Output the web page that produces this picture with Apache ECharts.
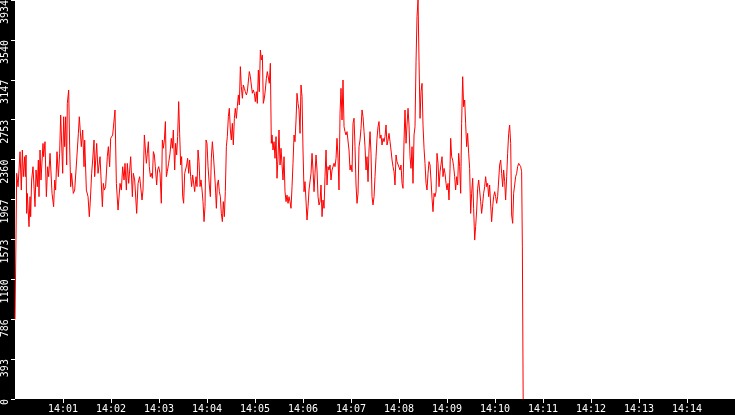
<!DOCTYPE html>
<html>
<head>
<meta charset="utf-8">
<script src="https://cdn.jsdelivr.net/npm/echarts@6/dist/echarts.min.js"></script>
<style>
  html, body { margin: 0; padding: 0; background: #000; }
  #main { width: 735px; height: 415px; }
</style>
</head>
<body>
<div id="main"></div>
<script>
// seconds after 14:00:00
const xSeconds = [
  0, 1.2, 2.1, 3.8, 6.3, 7.9, 9.2, 10.4, 12.1, 12.9, 13.8, 14.6, 15.4, 17.5, 18.8, 19.6, 20.8, 22.5, 25, 26.3,
  27.9, 29.2, 30, 31.3, 32.5, 35, 35.8, 37.5, 39.2, 40.8, 42.1, 43.8, 46.3, 48.3, 49.6, 50.8, 52.5, 54.2, 55.8, 57.1,
  59.6, 60.8, 62.1, 63.3, 64.6, 65.4, 67.1, 68.3, 69.6, 70.8, 72.9, 74.6, 77.1, 79.2, 80.4, 81.7, 82.9, 84.6, 86.3, 87.1,
  89.2, 91.3, 92.9, 94.2, 95.8, 97.1, 98.8, 99.6, 102.1, 103.8, 106.3, 109.2, 110.4, 111.7, 113.3, 115.4, 116.7, 118.3, 119.6, 122.1,
  123.8, 125, 126.7, 128.8, 131.3, 132.9, 134.6, 136.3, 137.5, 139.2, 140.4, 142.1, 144.6, 146.7, 147.9, 149.6, 152.1, 153.8, 155.8, 158.8,
  160, 161.7, 163, 164.2, 165.4, 166.7, 167.9, 169.2, 170.4, 171.7, 173, 174.2, 175.4, 177.1, 178.3, 179.6, 181.3, 182.9, 184.2, 185.4,
  186.7, 188, 189.2, 190.4, 192, 193.8, 195.4, 196.7, 197.9, 199.6, 200.8, 202.1, 203.3, 204.6, 205.8, 207.1, 208.3, 209.6, 210.8, 212.1,
  213.3, 214.6, 215.8, 217.1, 218.3, 219.6, 220.8, 222.1, 223.3, 224.6, 226.3, 227.5, 228.8, 230, 231.3, 232.5, 233.8, 235, 236.3, 237.5,
  238.8, 240, 241.3, 242.9, 244.2, 245.4, 246.7, 248, 249.2, 250.4, 251.7, 252.9, 254.2, 255.4, 256.7, 257.9, 259.2, 260.4, 261.7, 262.9,
  264.2, 265.4, 266.7, 267.9, 269.2, 270.4, 271.7, 272.9, 274.2, 275.4, 276.7, 277.9, 279.2, 280.4, 281.7, 282.9, 284.2, 285.4, 286.7, 287.9,
  289.2, 290.4, 291.7, 292.9, 294.2, 295.4, 296.7, 297.9, 299.2, 300.4, 301.7, 302.9, 304.2, 305.4, 306.7, 307.9, 309.2, 310.4, 311.7, 312.9,
  314.2, 315.4, 316.7, 317.9, 319.2, 320.4, 321.3, 322.5, 323.8, 325, 326.3, 327.5, 328.8, 330, 331.3, 332.5, 333.8, 335, 336.3, 337.5,
  338.8, 340, 341.3, 342.5, 343.8, 345, 346.3, 347.5, 348.8, 350, 351.3, 352.5, 353.8, 355, 356.3, 357.5, 358.8, 360, 361.3, 362.5,
  363.8, 365, 366.3, 367.5, 368.8, 370, 371.3, 372.5, 373.8, 375, 376.3, 377.5, 378.8, 380, 381.3, 382.5, 383.8, 385, 386.3, 387.5,
  388.8, 390, 391.3, 392.5, 393.8, 395, 396.3, 397.5, 398.8, 400, 401.3, 402.5, 403.8, 405, 406.3, 407.5, 408.8, 410, 411.3, 412.5,
  413.8, 415, 416.3, 417.5, 418.8, 420, 421.3, 422.5, 423.8, 425, 426.3, 427.5, 428.8, 430, 431.3, 432.5, 433.8, 435, 436.3, 437.5,
  438.8, 440, 441.3, 442.5, 443.8, 445, 446.3, 447.5, 448.8, 450, 451.3, 452.5, 453.8, 455, 456.3, 457.5, 458.8, 460, 461.3, 462.5,
  463.8, 465, 466.3, 467.5, 468.8, 470, 471.3, 472.5, 473.8, 475, 476.3, 477.5, 478.8, 480, 481.3, 482.5, 483.8, 485, 486.3, 487.5,
  488.8, 490, 491.3, 492.5, 493.8, 495, 496.3, 497.5, 498.8, 500, 501.3, 502.5, 503.8, 505, 506.3, 507.5, 508.8, 510, 511.3, 512.5,
  513.8, 515, 516.3, 517.5, 518.8, 520, 521.3, 522.5, 523.8, 525, 526.3, 527.5, 528.8, 530, 531.3, 532.5, 533.8, 535, 536.3, 537.5,
  538.8, 540, 541.3, 542.5, 543.8, 544.6, 545.8, 547.1, 548.3, 549.6, 550.8, 552.1, 553.3, 554.6, 555.8, 557.1, 558.3, 559.6, 560.8, 562.1,
  563.3, 564.6, 565.8, 567.1, 568.3, 569.6, 570.8, 572.1, 573.3, 574.6, 575.8, 577.1, 578.3, 579.6, 580.8, 582.1, 583.3, 584.6, 585.8, 587.1,
  588.3, 589.6, 590.8, 592.1, 593.3, 594.6, 595.8, 597.1, 598.3, 599.6, 600.8, 602.1, 603.3, 604.6, 605.8, 607.1, 608.3, 609.6, 610.8, 612.1,
  613.3, 614.6, 615.8, 617.1, 618.3, 619.6, 620.8, 622.1, 623.3, 624.6, 625.8, 627.1, 628.3, 629.6, 630.8, 632.1, 633.3, 634.2, 635.2
];
const yValues = [
  786, 1570, 2225, 2093, 2438, 2060, 2455, 2192, 2389, 2192, 2405, 1830, 2027, 1699, 1995, 1797, 2159, 2290, 1896, 2258,
  2093, 2356, 1995, 2455, 2159, 2520, 2389, 2537, 1995, 2290, 2192, 2422, 2027, 1896, 2159, 2060, 2438, 2192, 2422, 2800,
  2225, 2783, 2488, 2783, 2307, 2915, 3046, 2504, 2093, 2225, 2027, 2060, 2356, 2619, 2783, 2800, 2488, 2652, 2290, 2553,
  2060, 1995, 1797, 1962, 2225, 2356, 2553, 2192, 2520, 2225, 2389, 1896, 2126, 2060, 2093, 2389, 2488, 2290, 2570, 2603,
  2619, 2849, 2126, 1863, 2126, 2060, 2290, 2159, 2323, 2060, 2323, 2126, 2389, 1995, 2225, 2159, 1830, 2126, 2192, 1962,
  2061, 2603, 2620, 2324, 2422, 2537, 2291, 2192, 2225, 2176, 2439, 2406, 2291, 2110, 2258, 2291, 2225, 1930, 2554, 2472,
  2554, 2735, 2192, 2242, 2324, 2422, 2570, 2472, 2652, 2258, 2521, 2406, 2587, 2932, 2620, 2307, 2390, 1995, 1930, 2225,
  2242, 2307, 2373, 2225, 2357, 2192, 2094, 2209, 2192, 2045, 2192, 2094, 2455, 2340, 2094, 2160, 2061, 1946, 1749, 1897,
  2554, 2521, 2291, 2110, 1995, 2373, 2537, 2406, 2390, 2110, 1880, 2110, 2160, 2045, 1995, 1831, 1749, 1946, 1798, 2045,
  2488, 2587, 2784, 2866, 2652, 2554, 2718, 2505, 2767, 2866, 2767, 2883, 2998, 2899, 3277, 3080, 2965, 3096, 3063, 3030,
  2998, 3030, 3014, 3228, 3178, 3096, 3014, 3047, 3014, 2932, 3030, 2915, 3244, 3030, 3441, 3343, 3392, 2915, 2965, 3047,
  3162, 3228, 3244, 3113, 3310, 2521, 2603, 2455, 2537, 2373, 2587, 2176, 2389, 2652, 2307, 2472, 2455, 2159, 2389, 2044,
  1946, 2011, 1929, 1995, 1946, 1880, 2094, 2324, 2603, 2537, 2751, 3014, 2915, 2850, 2619, 3096, 2981, 2455, 2044, 2143,
  2126, 1765, 1896, 2061, 2044, 2225, 2422, 2258, 2044, 2225, 2406, 2258, 1995, 1913, 1946, 2110, 1798, 1962, 1880, 2192,
  2455, 2110, 2291, 2258, 2307, 2159, 2258, 2258, 2324, 2291, 2373, 2570, 2373, 2061, 2817, 3063, 2751, 3145, 2685, 2636,
  2603, 2636, 2619, 2455, 2258, 2307, 2241, 2718, 2768, 2488, 2110, 1929, 2028, 2488, 2554, 2669, 2850, 2784, 2636, 2488,
  2258, 2389, 2143, 2455, 2636, 2422, 1995, 1913, 1995, 2192, 2389, 2570, 2685, 2735, 2570, 2603, 2504, 2570, 2537, 2587,
  2702, 2504, 2554, 2619, 2537, 2455, 2357, 2291, 2241, 2110, 2406, 2340, 2356, 2323, 2258, 2307, 2126, 2077, 2553, 2849,
  2521, 2701, 2866, 2701, 2389, 2274, 2488, 2126, 2603, 2685, 3326, 3770, 3934, 3342, 2767, 3030, 3112, 2701, 2471, 2323,
  2126, 2061, 2225, 2340, 2307, 2159, 1978, 1847, 2028, 1995, 2044, 2422, 2323, 2093, 2241, 2258, 2389, 2192, 2274, 2225,
  2126, 2061, 2126, 1962, 2274, 2570, 2389, 2356, 2291, 2192, 2061, 2192, 2110, 2422, 2291, 2028, 2718, 3178, 2882, 2948,
  2718, 2488, 2619, 2422, 2274, 1830, 2028, 2176, 1880, 1567, 1699, 1863, 2077, 2159, 2176, 1946, 1830, 1929, 2028, 2093,
  2192, 2093, 2126, 1995, 2110, 1913, 1748, 1896, 1995, 2044, 1995, 1929, 1995, 2159, 2307, 2356, 2225, 2093, 2258, 2143,
  1962, 2192, 2422, 2619, 2701, 2521, 1814, 1732, 2028, 2110, 2192, 2225, 2291, 2323, 2340, 2291, 2241, 1500, 0
];
const xTickLabels = ['14:00', '14:01', '14:02', '14:03', '14:04', '14:05', '14:06', '14:07',
  '14:08', '14:09', '14:10', '14:11', '14:12', '14:13', '14:14', '14:15'];
const yTickLabels = ['0', '393', '786', '1180', '1573', '1967', '2360', '2753', '3147', '3540', '3934'];
const yStep = 393.4;

const chart = echarts.init(document.getElementById('main'));
const lineData = xSeconds.map((t, i) => [t, yValues[i]]);

chart.setOption({
  animation: false,
  backgroundColor: '#000',
  grid: {
    left: 15, right: 0, top: 0, bottom: 16,
    outerBoundsMode: 'none',
    containLabel: false,
    show: true, backgroundColor: '#fff', borderWidth: 0
  },
  xAxis: {
    type: 'value',
    min: 0, max: 900, interval: 60,
    axisLine: { show: false },
    axisTick: { show: true, length: 4, lineStyle: { color: '#fff', width: 1 } },
    splitLine: { show: false },
    axisLabel: {
      color: '#fff', fontFamily: 'DejaVu Sans Mono', fontSize: 10, margin: 5,
      showMinLabel: false, showMaxLabel: false,
      formatter: (v) => xTickLabels[Math.round(v / 60)]
    }
  },
  yAxis: {
    type: 'value',
    min: 0, max: 3934, interval: yStep,
    axisLine: { show: false },
    axisTick: { show: true, length: 4, lineStyle: { color: '#fff', width: 1 } },
    splitLine: { show: false },
    axisLabel: {
      color: '#fff', fontFamily: 'DejaVu Sans Mono', fontSize: 10,
      rotate: 90, align: 'right', verticalAlign: 'bottom', margin: 5,
      formatter: (v) => yTickLabels[Math.round(v / yStep)]
    }
  },
  series: [{
    type: 'line',
    data: lineData,
    showSymbol: false,
    lineStyle: { color: '#ff0000', width: 1 },
    itemStyle: { color: '#ff0000' }
  }]
});
</script>
</body>
</html>
